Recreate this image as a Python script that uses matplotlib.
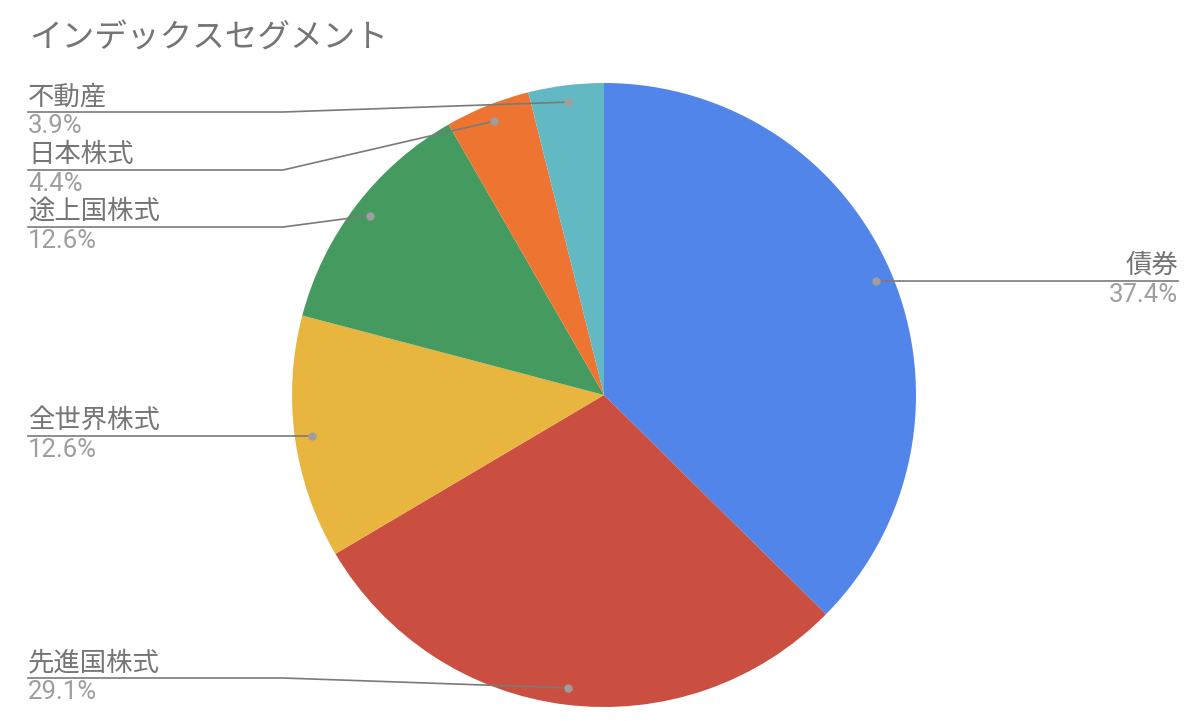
import numpy as np
import matplotlib.pyplot as plt

# データ
labels = ['債券', '先進国株式', '全世界株式', '途上国株式', '日本株式', '不動産']
values = [37.4, 29.1, 12.6, 12.6, 4.4, 3.9]
colors = ['#5185EA', '#CB4F40', '#E8B53F', '#459A5F', '#EE7531', '#63B9C3']
title = 'インデックスセグメント'

W, H = 1200, 721
cx, cy, R = 604, H - 395, 312

fig = plt.figure(figsize=(12, 7.21), dpi=100)
ax = fig.add_axes([0, 0, 1, 1])

wedges, _ = ax.pie(values, colors=colors, startangle=90, counterclock=False,
                   center=(cx, cy), radius=R, frame=True)
ax.set_xlim(0, W)
ax.set_ylim(0, H)
ax.set_aspect('equal')
ax.axis('off')

jp = ['Noto Sans CJK JP', 'DejaVu Sans']
num = ['Roboto', 'Noto Sans CJK JP']
name_col = '#757575'
pct_col = '#9E9E9E'
line_col = '#7a7a7a'

ax.text(29, H - 38, title, fontsize=23.5, color=name_col, family=jp, va='center', ha='left')

# ラベル位置 (画面上のy)
line_y = {'不動産': 112, '日本株式': 170, '途上国株式': 227, '先進国株式': 678}
elbow_x = 283

for w, lab, v in zip(wedges, labels, values):
    mid = np.deg2rad((w.theta1 + w.theta2) / 2)
    dx = cx + 0.946 * R * np.cos(mid)
    dy = cy + 0.946 * R * np.sin(mid)
    pct = f'{v:.1f}%'
    if dx > cx:
        ly = dy
        ax.plot([dx, 1178], [ly, ly], color=line_col, lw=1.2, zorder=3)
        tx, ha = 1178, 'right'
    else:
        ly = H - line_y[lab] if lab in line_y else dy
        ax.plot([28, elbow_x, dx], [ly, ly, dy], color=line_col, lw=1.2, zorder=3)
        tx, ha = 28, 'left'
    ax.plot(dx, dy, 'o', color='#9E9E9E', ms=5, zorder=4)
    ax.text(tx, ly + 2, lab, fontsize=19, color=name_col, family=jp, ha=ha, va='bottom')
    ax.text(tx, ly - 2, pct, fontsize=18.5, color=pct_col, family=num, ha=ha, va='top')

plt.savefig('out.png', dpi=100)
plt.close()
